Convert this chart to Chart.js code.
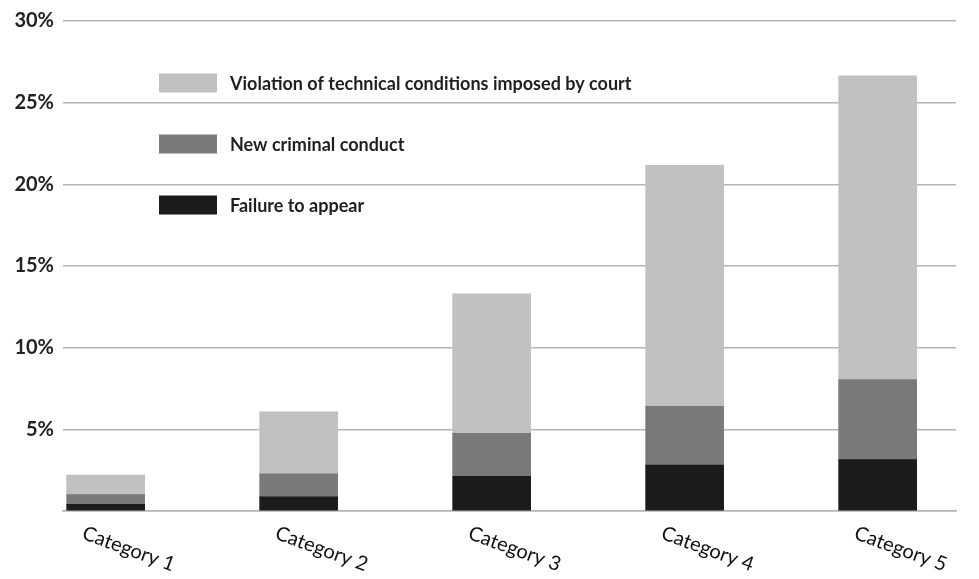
<!DOCTYPE html>
<html>
<head>
<meta charset="utf-8">
<script src="https://cdn.jsdelivr.net/npm/chart.js@4"></script>
<style>
  html, body { margin: 0; padding: 0; background: #ffffff; }
  #wrap { width: 979px; height: 579px; position: relative; }
</style>
</head>
<body>
<div id="wrap"><canvas id="c"></canvas></div>
<script>
const categories = ["Category 1", "Category 2", "Category 3", "Category 4", "Category 5"];
const failureToAppear = [0.41, 0.86, 2.13, 2.81, 3.15];
const newCriminalConduct = [0.59, 1.42, 2.62, 3.60, 4.90];
const technicalViolation = [1.20, 3.79, 8.54, 14.76, 18.60];
const seriesNames = ["Failure to appear", "New criminal conduct", "Violation of technical conditions imposed by court"];
const yTicks = [0, 5, 10, 15, 20, 25, 30];

const colors = ["#1b1b1b", "#797979", "#c0c0c0"];
const seriesValues = [failureToAppear, newCriminalConduct, technicalViolation];

const datasets = seriesValues.map((vals, s) => ({
  label: seriesNames[s],
  data: vals.map((v, i) => ({ x: i, y: v })),
  backgroundColor: colors[s],
  borderWidth: 0,
  barThickness: 78
}));

const overlay = {
  id: 'overlay',
  afterDraw(chart) {
    const ctx = chart.ctx;
    const xs = chart.scales.x;
    const ys = chart.scales.y;
    ctx.save();
    // category labels, rotated clockwise
    ctx.font = '20px Lato';
    ctx.fillStyle = '#111111';
    ctx.textAlign = 'left';
    ctx.textBaseline = 'top';
    categories.forEach((lab, i) => {
      const px = xs.getPixelForValue(i);
      const py = ys.getPixelForValue(0);
      ctx.save();
      ctx.translate(px - 19, py + 12);
      ctx.rotate(20 * Math.PI / 180);
      ctx.fillText(lab, 0, 0);
      ctx.restore();
    });
    // legend inside plot area
    ctx.font = 'bold 18px Lato';
    ctx.textBaseline = 'middle';
    const order = [2, 1, 0];
    order.forEach((s, k) => {
      const cy = 83 + k * 61;
      ctx.fillStyle = colors[s];
      ctx.fillRect(159, cy - 9.5, 58, 19);
      ctx.fillStyle = '#1f1f1f';
      ctx.fillText(seriesNames[s], 230, cy + 1);
    });
    ctx.restore();
  }
};

new Chart(document.getElementById('c'), {
  type: 'bar',
  data: { datasets },
  options: {
    responsive: true,
    maintainAspectRatio: false,
    animation: false,
    layout: { padding: { top: 20, right: 23, bottom: 68, left: 0 } },
    plugins: { legend: { display: false }, tooltip: { enabled: false } },
    scales: {
      x: {
        type: 'linear',
        stacked: true,
        offset: false,
        min: -0.221,
        max: 4.406,
        ticks: { display: false },
        grid: { display: false, drawTicks: false, tickLength: 0, offset: false },
        border: { display: true, color: '#b3b3b3', width: 1.5 },
        afterFit(scale) { scale.height = 0; }
      },
      y: {
        stacked: true,
        min: 0,
        max: 30,
        afterBuildTicks(scale) { scale.ticks = yTicks.map(v => ({ value: v })); },
        afterFit(scale) { scale.width = 63; },
        ticks: {
          padding: 9,
          color: '#222222',
          font: { family: 'Lato', weight: 'bold', size: 20 },
          callback: v => (v === 0 ? '' : v + '%')
        },
        grid: { color: '#b5b5b5', lineWidth: 1.5, drawTicks: false },
        border: { display: false }
      }
    }
  },
  plugins: [overlay]
});
</script>
</body>
</html>
